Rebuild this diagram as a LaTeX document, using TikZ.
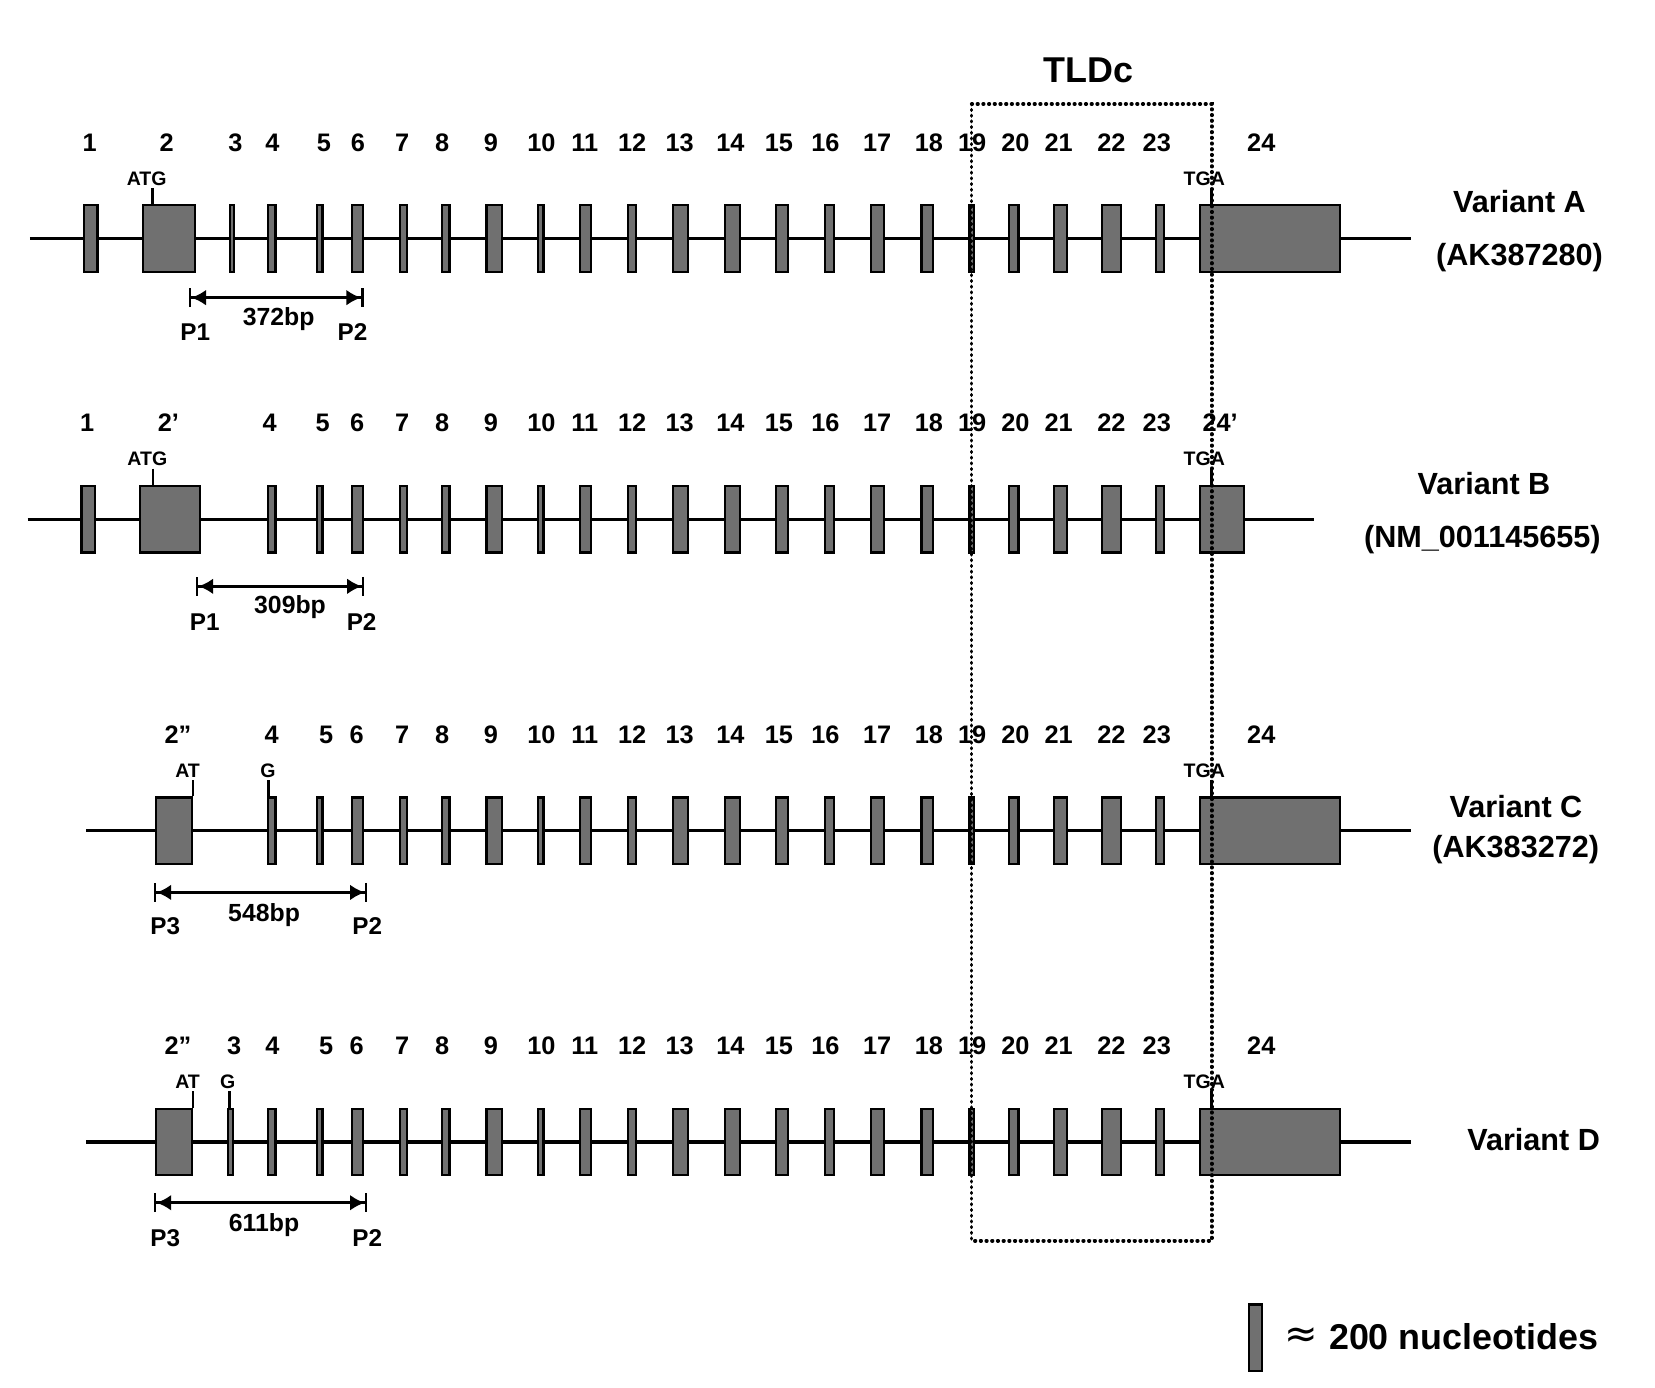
\documentclass[tikz,border=0pt]{standalone}
\usepackage{fontspec}
\setmainfont{Liberation Sans}
\newfontfamily\symbolfont{DejaVu Sans}
\usetikzlibrary{arrows.meta}
\definecolor{exongray}{RGB}{112,112,112}
\begin{document}
\begin{tikzpicture}[x=1pt,y=-1pt,
  exonbox/.style={draw=black, fill=exongray, line width=2.1pt, rectangle, inner sep=0pt, minimum height=62.9pt},
  backbone/.style={line width=3.2pt},
  num/.style={inner sep=0pt, font=\fontsize{24}{24}\selectfont\bfseries, text height=17.2pt, text depth=0pt},
  codon/.style={inner sep=0pt, font=\fontsize{18.5}{18.5}\selectfont\bfseries, text height=13.3pt, text depth=0pt},
  tickline/.style={line width=2.2pt},
  prim/.style={inner sep=0pt, font=\fontsize{23}{23}\selectfont\bfseries, text height=16.5pt, text depth=0pt},
  bplab/.style={inner sep=0pt, font=\fontsize{23.5}{23.5}\selectfont\bfseries, text height=16.8pt, text depth=0pt},
  dimarrow/.style={line width=2.4pt, arrows={{Bar[width=18pt] Latex[length=14pt,width=15pt]}-{Latex[length=14pt,width=15pt] Bar[width=18pt]}}},
  varlab/.style={inner sep=0pt, font=\fontsize{29}{29}\selectfont\bfseries, text height=20.8pt, text depth=0pt},
  biglab/.style={inner sep=0pt, font=\fontsize{34}{34}\selectfont\bfseries, text height=24.4pt, text depth=0pt},
  tldbox/.style={line width=3.4pt, dash pattern=on 0.6pt off 4.8pt, line cap=round}
]
\fill[white] (0,0) rectangle (1568,1315);
\useasboundingbox (0,0) rectangle (1568,1315);

% ---------- backbones ----------
\coordinate (sA) at (28.3,226);  \coordinate (eA) at (1336.6,226);
\coordinate (sB) at (26.1,492);  \coordinate (eB) at (1245.1,492);
\coordinate (sC) at (81.6,787);  \coordinate (eC) at (1336.6,787);
\coordinate (sD) at (81.6,1082); \coordinate (eD) at (1336.6,1082);
\foreach \row in {A,B,C,D}{\draw[backbone] (s\row) -- (e\row);}

% ---------- exons common to all variants ----------
\foreach \row/\yy in {A/226,B/492,C/787,D/1082}{
  \foreach \n/\lx/\rx in {4/252.5/262, 5/299.5/306.5, 6/332.5/345, 7/377.8/386.3,
      8/417.5/427, 9/459.8/476.4, 10/508.7/516, 11/548.2/561.3, 12/593.6/603.8,
      13/636.4/652.7, 14/686/702.3, 15/733.9/747.7, 16/780.3/791.2, 17/823.8/838.3,
      18/872/884.7, 19/917.4/924.2, 20/955.1/966, 21/997.2/1011.7, 22/1043.1/1063.1,
      23/1094.2/1104.2}{
    \node[exonbox, minimum width={\rx-\lx-2.1}] (e\row\n) at ({(\lx+\rx)/2},\yy) {};
  }
}
% ---------- variant-specific exons ----------
\foreach \nm/\lx/\rx/\yy in {eA1/78.7/93.5/226, eA2/134.2/185.6/226, eA3/216.5/222.8/226, eA24/1136/1270.9/226,
    eB1/76.1/91.4/492, eB2/131.3/190.4/492, eB24/1136/1179.6/492,
    eC2/146.8/183.1/787, eC24/1136/1270.9/787,
    eD2/146.8/183.1/1082, eD3/215/222/1082, eD24/1136/1270.9/1082}{
  \node[exonbox, minimum width={\rx-\lx-2.1}] (\nm) at ({(\lx+\rx)/2},\yy) {};
}

% ---------- exon numbers ----------
\foreach \row/\yy in {A/134.5,B/400.5,C/695.5,D/990.5}{
  \foreach \n/\xx in {7/381, 8/419, 9/465, 10/513, 11/554, 12/599, 13/644, 14/692,
      15/738, 16/782, 17/831, 18/880, 19/921, 20/962, 21/1003, 22/1053, 23/1096}{
    \node[num] (n\row\n) at (\xx,\yy) {\n};
  }
}
\node[num] (nA1) at (85,134.5) {1};
\node[num] (nA2) at (158,134.5) {2};
\node[num] (nA3) at (223,134.5) {3};
\node[num] (nA4) at (258,134.5) {4};
\node[num] (nA5) at (307,134.5) {5};
\node[num] (nA6) at (339,134.5) {6};
\node[num] (nA24) at (1195,134.5) {24};
\node[num] (nB1) at (82.7,400.5) {1};
\node[num] (nB2) at (159.5,400.5) {2’};
\node[num] (nB4) at (255.6,400.5) {4};
\node[num] (nB5) at (305.7,400.5) {5};
\node[num] (nB6) at (338.3,400.5) {6};
\node[num] (nB24) at (1156,400.5) {24’};
\node[num] (nC2) at (168.6,695.5) {2”};
\node[num] (nC4) at (257.4,695.5) {4};
\node[num] (nC5) at (309,695.5) {5};
\node[num] (nC6) at (338,695.5) {6};
\node[num] (nC24) at (1195,695.5) {24};
\node[num] (nD2) at (168.6,990.5) {2”};
\node[num] (nD3) at (221.9,990.5) {3};
\node[num] (nD4) at (258.2,990.5) {4};
\node[num] (nD5) at (309,990.5) {5};
\node[num] (nD6) at (338,990.5) {6};
\node[num] (nD24) at (1195,990.5) {24};

% ---------- start / stop codons ----------
\node[codon] (atgA) at (139,169) {ATG};
\coordinate (tA) at (144.5,178); \draw[tickline] (tA) -- (tA |- eA2.north);
\node[codon] (atgB) at (139.6,434.5) {ATG};
\coordinate (tB) at (145,444); \draw[tickline] (tB) -- (tB |- eB2.north);
\node[codon] (atC) at (177.7,729.5) {AT};
\coordinate (tC) at (183.1,739); \draw[tickline] (tC) -- (tC |- eC2.north);
\node[codon] (gC) at (253.8,729.5) {G};
\coordinate (gtC) at (254.5,739); \draw[tickline] (gtC) -- (gtC |- eC4.north);
\node[codon] (atD) at (177.7,1024.5) {AT};
\coordinate (tD) at (183.1,1034); \draw[tickline] (tD) -- (tD |- eD2.north);
\node[codon] (gD) at (215.7,1024.5) {G};
\coordinate (gtD) at (217.5,1034); \draw[tickline] (gtD) -- (gtD |- eD3.north);
\foreach \row/\yy/\ty in {A/169/178, B/434.5/444, C/729.5/739, D/1024.5/1034}{
  \node[codon] (tga\row) at (1141,\yy) {TGA};
  \coordinate (u\row) at (1147.8,\ty);
  \draw[tickline] (u\row) -- (u\row |- e\row24.north);
}

% ---------- primer products ----------
\coordinate (pa1) at (178.8,282);   \coordinate (pa2) at (344.5,282);
\draw[dimarrow] (pa1) -- (pa2);
\node[bplab] (bpA) at (264,300) {372bp};
\node[prim] (pA1) at (185,314.2) {P1};
\node[prim] (pA2) at (334,314.2) {P2};

\coordinate (pb1) at (185.6,555.5); \coordinate (pb2) at (345.2,555.5);
\draw[dimarrow] (pb1) -- (pb2);
\node[bplab] (bpB) at (274.8,573) {309bp};
\node[prim] (pB1) at (194,589) {P1};
\node[prim] (pB2) at (342.6,589) {P2};

\coordinate (pc1) at (145.8,845.5); \coordinate (pc2) at (348,845.5);
\draw[dimarrow] (pc1) -- (pc2);
\node[bplab] (bpC) at (250.2,864.5) {548bp};
\node[prim] (pC3) at (156.6,877.5) {P3};
\node[prim] (pC2) at (348,877.5) {P2};

\coordinate (pd1) at (145.8,1139.5); \coordinate (pd2) at (348,1139.5);
\draw[dimarrow] (pd1) -- (pd2);
\node[bplab] (bpD) at (250.2,1158.5) {611bp};
\node[prim] (pD3) at (156.6,1172.5) {P3};
\node[prim] (pD2) at (348,1172.5) {P2};

% ---------- variant names ----------
\node[varlab] (vA) at (1439.6,191) {Variant A};
\node[varlab] (vAid) at (1439.6,241.6) {(AK387280)};
\node[varlab] (vB) at (1406,458) {Variant B};
\node[varlab] (vBid) at (1404.4,508.5) {(NM\_001145655)};
\node[varlab] (vC) at (1436.3,764.3) {Variant C};
\node[varlab] (vCid) at (1436,802.2) {(AK383272)};
\node[varlab] (vD) at (1453,1080) {Variant D};

% ---------- TLDc domain ----------
\node[biglab] (tldc) at (1031,66.3) {TLDc};
\draw[tldbox] (920.6,98.5) rectangle (1148,1175.5);

% ---------- legend ----------
\node[exonbox, minimum width=13pt, minimum height=63pt] (leg) at (1189.5,1267.5) {};
\node[inner sep=0pt, font=\symbolfont\fontsize{38}{38}\selectfont] (legapprox) at (1233,1267.5) {≈};
\node[biglab, anchor=west] (legtxt) at (1259,1266.5) {200 nucleotides};
\end{tikzpicture}
\end{document}
